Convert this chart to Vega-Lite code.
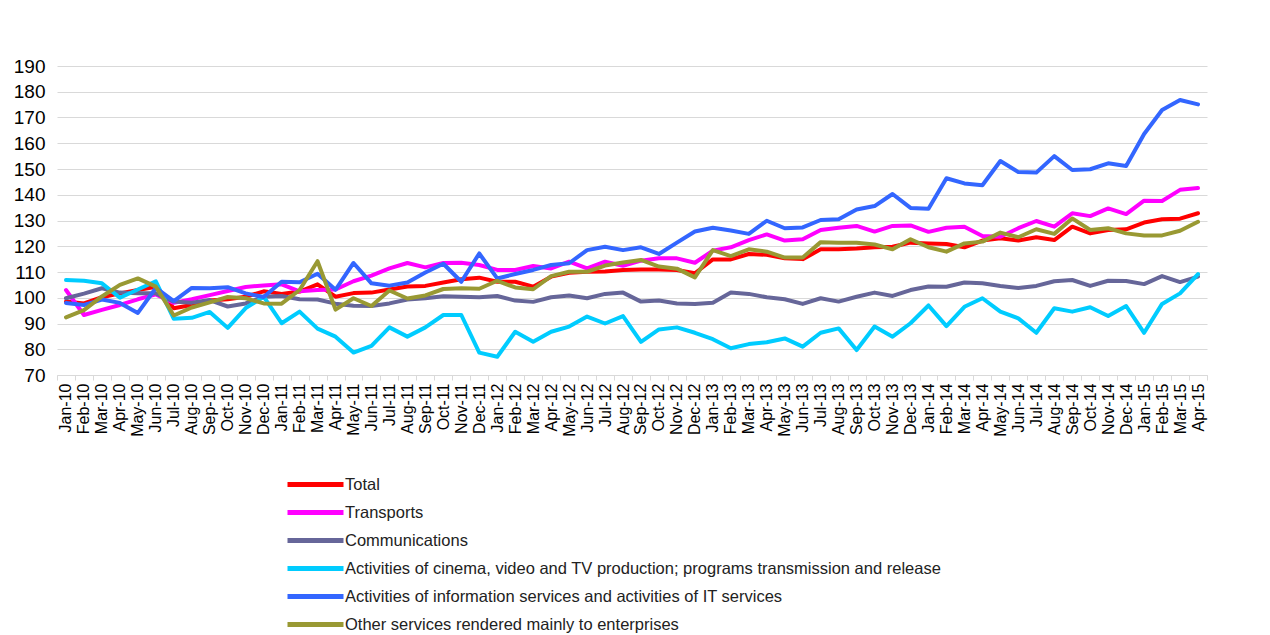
{
  "$schema": "https://vega.github.io/schema/vega-lite/v6.json",
  "autosize": {"type": "none"},
  "width": 1150,
  "height": 309,
  "padding": {"left": 57, "top": 66, "right": 63, "bottom": 260},
  "background": "white",
  "config": {"view": {"stroke": null}, "font": "Liberation Sans"},
  "data": {"values": [
    {"month":"Jan-10","series":"Total","value":98.5},{"month":"Feb-10","series":"Total","value":97.8},{"month":"Mar-10","series":"Total","value":100.2},{"month":"Apr-10","series":"Total","value":101.7},{"month":"May-10","series":"Total","value":103},{"month":"Jun-10","series":"Total","value":104.3},{"month":"Jul-10","series":"Total","value":95.9},{"month":"Aug-10","series":"Total","value":97.2},{"month":"Sep-10","series":"Total","value":98.9},{"month":"Oct-10","series":"Total","value":99.4},{"month":"Nov-10","series":"Total","value":100.4},{"month":"Dec-10","series":"Total","value":102.5},
    {"month":"Jan-11","series":"Total","value":101.5},{"month":"Feb-11","series":"Total","value":102.4},{"month":"Mar-11","series":"Total","value":105.2},{"month":"Apr-11","series":"Total","value":100.4},{"month":"May-11","series":"Total","value":101.8},{"month":"Jun-11","series":"Total","value":102},{"month":"Jul-11","series":"Total","value":103.2},{"month":"Aug-11","series":"Total","value":104.4},{"month":"Sep-11","series":"Total","value":104.6},{"month":"Oct-11","series":"Total","value":105.9},{"month":"Nov-11","series":"Total","value":107.2},{"month":"Dec-11","series":"Total","value":107.8},
    {"month":"Jan-12","series":"Total","value":106.2},{"month":"Feb-12","series":"Total","value":106.2},{"month":"Mar-12","series":"Total","value":104.3},{"month":"Apr-12","series":"Total","value":108.2},{"month":"May-12","series":"Total","value":109.7},{"month":"Jun-12","series":"Total","value":110.1},{"month":"Jul-12","series":"Total","value":110.2},{"month":"Aug-12","series":"Total","value":110.8},{"month":"Sep-12","series":"Total","value":111},{"month":"Oct-12","series":"Total","value":111},{"month":"Nov-12","series":"Total","value":110.8},{"month":"Dec-12","series":"Total","value":109.5},
    {"month":"Jan-13","series":"Total","value":114.9},{"month":"Feb-13","series":"Total","value":114.9},{"month":"Mar-13","series":"Total","value":117},{"month":"Apr-13","series":"Total","value":116.7},{"month":"May-13","series":"Total","value":115.3},{"month":"Jun-13","series":"Total","value":115},{"month":"Jul-13","series":"Total","value":118.8},{"month":"Aug-13","series":"Total","value":118.8},{"month":"Sep-13","series":"Total","value":119.1},{"month":"Oct-13","series":"Total","value":119.6},{"month":"Nov-13","series":"Total","value":119.8},{"month":"Dec-13","series":"Total","value":121.4},
    {"month":"Jan-14","series":"Total","value":121.1},{"month":"Feb-14","series":"Total","value":120.9},{"month":"Mar-14","series":"Total","value":119.6},{"month":"Apr-14","series":"Total","value":122.2},{"month":"May-14","series":"Total","value":123.1},{"month":"Jun-14","series":"Total","value":122.2},{"month":"Jul-14","series":"Total","value":123.5},{"month":"Aug-14","series":"Total","value":122.4},{"month":"Sep-14","series":"Total","value":127.6},{"month":"Oct-14","series":"Total","value":125},{"month":"Nov-14","series":"Total","value":126.3},{"month":"Dec-14","series":"Total","value":126.6},
    {"month":"Jan-15","series":"Total","value":129.2},{"month":"Feb-15","series":"Total","value":130.5},{"month":"Mar-15","series":"Total","value":130.7},{"month":"Apr-15","series":"Total","value":132.8},

    {"month":"Jan-10","series":"Transports","value":103},{"month":"Feb-10","series":"Transports","value":93.3},{"month":"Mar-10","series":"Transports","value":95.3},{"month":"Apr-10","series":"Transports","value":97.2},{"month":"May-10","series":"Transports","value":99.4},{"month":"Jun-10","series":"Transports","value":101.3},{"month":"Jul-10","series":"Transports","value":98},{"month":"Aug-10","series":"Transports","value":99.4},{"month":"Sep-10","series":"Transports","value":101},{"month":"Oct-10","series":"Transports","value":102.6},{"month":"Nov-10","series":"Transports","value":104.2},{"month":"Dec-10","series":"Transports","value":104.8},
    {"month":"Jan-11","series":"Transports","value":105.2},{"month":"Feb-11","series":"Transports","value":102.5},{"month":"Mar-11","series":"Transports","value":103},{"month":"Apr-11","series":"Transports","value":103.2},{"month":"May-11","series":"Transports","value":106.4},{"month":"Jun-11","series":"Transports","value":108.6},{"month":"Jul-11","series":"Transports","value":111.4},{"month":"Aug-11","series":"Transports","value":113.5},{"month":"Sep-11","series":"Transports","value":111.8},{"month":"Oct-11","series":"Transports","value":113.5},{"month":"Nov-11","series":"Transports","value":113.6},{"month":"Dec-11","series":"Transports","value":112.7},
    {"month":"Jan-12","series":"Transports","value":110.8},{"month":"Feb-12","series":"Transports","value":110.8},{"month":"Mar-12","series":"Transports","value":112.3},{"month":"Apr-12","series":"Transports","value":111.4},{"month":"May-12","series":"Transports","value":114},{"month":"Jun-12","series":"Transports","value":111.4},{"month":"Jul-12","series":"Transports","value":114},{"month":"Aug-12","series":"Transports","value":112.4},{"month":"Sep-12","series":"Transports","value":114.4},{"month":"Oct-12","series":"Transports","value":115.3},{"month":"Nov-12","series":"Transports","value":115.3},{"month":"Dec-12","series":"Transports","value":113.6},
    {"month":"Jan-13","series":"Transports","value":118.3},{"month":"Feb-13","series":"Transports","value":119.6},{"month":"Mar-13","series":"Transports","value":122.4},{"month":"Apr-13","series":"Transports","value":124.6},{"month":"May-13","series":"Transports","value":122.2},{"month":"Jun-13","series":"Transports","value":122.7},{"month":"Jul-13","series":"Transports","value":126.3},{"month":"Aug-13","series":"Transports","value":127.2},{"month":"Sep-13","series":"Transports","value":127.9},{"month":"Oct-13","series":"Transports","value":125.7},{"month":"Nov-13","series":"Transports","value":127.9},{"month":"Dec-13","series":"Transports","value":128.1},
    {"month":"Jan-14","series":"Transports","value":125.6},{"month":"Feb-14","series":"Transports","value":127.2},{"month":"Mar-14","series":"Transports","value":127.6},{"month":"Apr-14","series":"Transports","value":124},{"month":"May-14","series":"Transports","value":123.7},{"month":"Jun-14","series":"Transports","value":127},{"month":"Jul-14","series":"Transports","value":129.8},{"month":"Aug-14","series":"Transports","value":127.6},{"month":"Sep-14","series":"Transports","value":132.8},{"month":"Oct-14","series":"Transports","value":131.7},{"month":"Nov-14","series":"Transports","value":134.7},{"month":"Dec-14","series":"Transports","value":132.5},
    {"month":"Jan-15","series":"Transports","value":137.7},{"month":"Feb-15","series":"Transports","value":137.6},{"month":"Mar-15","series":"Transports","value":141.9},{"month":"Apr-15","series":"Transports","value":142.6},

    {"month":"Jan-10","series":"Communications","value":99.8},{"month":"Feb-10","series":"Communications","value":101.6},{"month":"Mar-10","series":"Communications","value":103.7},{"month":"Apr-10","series":"Communications","value":102},{"month":"May-10","series":"Communications","value":101.7},{"month":"Jun-10","series":"Communications","value":101.7},{"month":"Jul-10","series":"Communications","value":98.5},{"month":"Aug-10","series":"Communications","value":98.1},{"month":"Sep-10","series":"Communications","value":99.1},{"month":"Oct-10","series":"Communications","value":96.6},{"month":"Nov-10","series":"Communications","value":97.8},{"month":"Dec-10","series":"Communications","value":100.4},
    {"month":"Jan-11","series":"Communications","value":100.7},{"month":"Feb-11","series":"Communications","value":99.4},{"month":"Mar-11","series":"Communications","value":99.3},{"month":"Apr-11","series":"Communications","value":97.7},{"month":"May-11","series":"Communications","value":96.9},{"month":"Jun-11","series":"Communications","value":96.8},{"month":"Jul-11","series":"Communications","value":97.8},{"month":"Aug-11","series":"Communications","value":99.3},{"month":"Sep-11","series":"Communications","value":99.8},{"month":"Oct-11","series":"Communications","value":100.6},{"month":"Nov-11","series":"Communications","value":100.4},{"month":"Dec-11","series":"Communications","value":100.2},
    {"month":"Jan-12","series":"Communications","value":100.7},{"month":"Feb-12","series":"Communications","value":98.9},{"month":"Mar-12","series":"Communications","value":98.4},{"month":"Apr-12","series":"Communications","value":100.2},{"month":"May-12","series":"Communications","value":100.9},{"month":"Jun-12","series":"Communications","value":99.8},{"month":"Jul-12","series":"Communications","value":101.5},{"month":"Aug-12","series":"Communications","value":102},{"month":"Sep-12","series":"Communications","value":98.5},{"month":"Oct-12","series":"Communications","value":98.9},{"month":"Nov-12","series":"Communications","value":97.8},{"month":"Dec-12","series":"Communications","value":97.6},
    {"month":"Jan-13","series":"Communications","value":98.1},{"month":"Feb-13","series":"Communications","value":102},{"month":"Mar-13","series":"Communications","value":101.5},{"month":"Apr-13","series":"Communications","value":100.2},{"month":"May-13","series":"Communications","value":99.4},{"month":"Jun-13","series":"Communications","value":97.6},{"month":"Jul-13","series":"Communications","value":99.8},{"month":"Aug-13","series":"Communications","value":98.5},{"month":"Sep-13","series":"Communications","value":100.4},{"month":"Oct-13","series":"Communications","value":102},{"month":"Nov-13","series":"Communications","value":100.7},{"month":"Dec-13","series":"Communications","value":103},
    {"month":"Jan-14","series":"Communications","value":104.4},{"month":"Feb-14","series":"Communications","value":104.3},{"month":"Mar-14","series":"Communications","value":105.9},{"month":"Apr-14","series":"Communications","value":105.6},{"month":"May-14","series":"Communications","value":104.6},{"month":"Jun-14","series":"Communications","value":103.8},{"month":"Jul-14","series":"Communications","value":104.6},{"month":"Aug-14","series":"Communications","value":106.4},{"month":"Sep-14","series":"Communications","value":106.9},{"month":"Oct-14","series":"Communications","value":104.6},{"month":"Nov-14","series":"Communications","value":106.6},{"month":"Dec-14","series":"Communications","value":106.5},
    {"month":"Jan-15","series":"Communications","value":105.3},{"month":"Feb-15","series":"Communications","value":108.4},{"month":"Mar-15","series":"Communications","value":106.1},{"month":"Apr-15","series":"Communications","value":108.2},

    {"month":"Jan-10","series":"Cinema","value":106.9},{"month":"Feb-10","series":"Cinema","value":106.6},{"month":"Mar-10","series":"Cinema","value":105.6},{"month":"Apr-10","series":"Cinema","value":100},{"month":"May-10","series":"Cinema","value":103.2},{"month":"Jun-10","series":"Cinema","value":106.4},{"month":"Jul-10","series":"Cinema","value":91.8},{"month":"Aug-10","series":"Cinema","value":92.2},{"month":"Sep-10","series":"Cinema","value":94.5},{"month":"Oct-10","series":"Cinema","value":88.3},{"month":"Nov-10","series":"Cinema","value":96},{"month":"Dec-10","series":"Cinema","value":100.4},
    {"month":"Jan-11","series":"Cinema","value":90.1},{"month":"Feb-11","series":"Cinema","value":94.6},{"month":"Mar-11","series":"Cinema","value":88},{"month":"Apr-11","series":"Cinema","value":84.9},{"month":"May-11","series":"Cinema","value":78.7},{"month":"Jun-11","series":"Cinema","value":81.3},{"month":"Jul-11","series":"Cinema","value":88.5},{"month":"Aug-11","series":"Cinema","value":84.9},{"month":"Sep-11","series":"Cinema","value":88.5},{"month":"Oct-11","series":"Cinema","value":93.3},{"month":"Nov-11","series":"Cinema","value":93.3},{"month":"Dec-11","series":"Cinema","value":78.7},
    {"month":"Jan-12","series":"Cinema","value":77.1},{"month":"Feb-12","series":"Cinema","value":86.8},{"month":"Mar-12","series":"Cinema","value":82.9},{"month":"Apr-12","series":"Cinema","value":86.8},{"month":"May-12","series":"Cinema","value":88.8},{"month":"Jun-12","series":"Cinema","value":92.7},{"month":"Jul-12","series":"Cinema","value":90},{"month":"Aug-12","series":"Cinema","value":92.9},{"month":"Sep-12","series":"Cinema","value":82.9},{"month":"Oct-12","series":"Cinema","value":87.7},{"month":"Nov-12","series":"Cinema","value":88.5},{"month":"Dec-12","series":"Cinema","value":86.4},
    {"month":"Jan-13","series":"Cinema","value":83.9},{"month":"Feb-13","series":"Cinema","value":80.4},{"month":"Mar-13","series":"Cinema","value":82},{"month":"Apr-13","series":"Cinema","value":82.7},{"month":"May-13","series":"Cinema","value":84.2},{"month":"Jun-13","series":"Cinema","value":81},{"month":"Jul-13","series":"Cinema","value":86.4},{"month":"Aug-13","series":"Cinema","value":88.1},{"month":"Sep-13","series":"Cinema","value":79.7},{"month":"Oct-13","series":"Cinema","value":88.8},{"month":"Nov-13","series":"Cinema","value":84.9},{"month":"Dec-13","series":"Cinema","value":90.1},
    {"month":"Jan-14","series":"Cinema","value":97},{"month":"Feb-14","series":"Cinema","value":89},{"month":"Mar-14","series":"Cinema","value":96.5},{"month":"Apr-14","series":"Cinema","value":99.8},{"month":"May-14","series":"Cinema","value":94.6},{"month":"Jun-14","series":"Cinema","value":92},{"month":"Jul-14","series":"Cinema","value":86.4},{"month":"Aug-14","series":"Cinema","value":95.9},{"month":"Sep-14","series":"Cinema","value":94.6},{"month":"Oct-14","series":"Cinema","value":96.3},{"month":"Nov-14","series":"Cinema","value":92.9},{"month":"Dec-14","series":"Cinema","value":96.8},
    {"month":"Jan-15","series":"Cinema","value":86.4},{"month":"Feb-15","series":"Cinema","value":97.6},{"month":"Mar-15","series":"Cinema","value":101.7},{"month":"Apr-15","series":"Cinema","value":109.2},

    {"month":"Jan-10","series":"IT","value":98},{"month":"Feb-10","series":"IT","value":97.2},{"month":"Mar-10","series":"IT","value":99.3},{"month":"Apr-10","series":"IT","value":98},{"month":"May-10","series":"IT","value":94.1},{"month":"Jun-10","series":"IT","value":103.8},{"month":"Jul-10","series":"IT","value":98.7},{"month":"Aug-10","series":"IT","value":103.8},{"month":"Sep-10","series":"IT","value":103.7},{"month":"Oct-10","series":"IT","value":104.1},{"month":"Nov-10","series":"IT","value":101.7},{"month":"Dec-10","series":"IT","value":100.3},
    {"month":"Jan-11","series":"IT","value":106.2},{"month":"Feb-11","series":"IT","value":106},{"month":"Mar-11","series":"IT","value":109.3},{"month":"Apr-11","series":"IT","value":103.1},{"month":"May-11","series":"IT","value":113.5},{"month":"Jun-11","series":"IT","value":105.6},{"month":"Jul-11","series":"IT","value":104.7},{"month":"Aug-11","series":"IT","value":105.9},{"month":"Sep-11","series":"IT","value":109.8},{"month":"Oct-11","series":"IT","value":113.2},{"month":"Nov-11","series":"IT","value":106.2},{"month":"Dec-11","series":"IT","value":117.2},
    {"month":"Jan-12","series":"IT","value":107.5},{"month":"Feb-12","series":"IT","value":109.2},{"month":"Mar-12","series":"IT","value":110.8},{"month":"Apr-12","series":"IT","value":112.7},{"month":"May-12","series":"IT","value":113.4},{"month":"Jun-12","series":"IT","value":118.5},{"month":"Jul-12","series":"IT","value":119.8},{"month":"Aug-12","series":"IT","value":118.5},{"month":"Sep-12","series":"IT","value":119.6},{"month":"Oct-12","series":"IT","value":117},{"month":"Nov-12","series":"IT","value":121.4},{"month":"Dec-12","series":"IT","value":125.7},
    {"month":"Jan-13","series":"IT","value":127.2},{"month":"Feb-13","series":"IT","value":126.1},{"month":"Mar-13","series":"IT","value":124.8},{"month":"Apr-13","series":"IT","value":129.9},{"month":"May-13","series":"IT","value":127},{"month":"Jun-13","series":"IT","value":127.3},{"month":"Jul-13","series":"IT","value":130.2},{"month":"Aug-13","series":"IT","value":130.5},{"month":"Sep-13","series":"IT","value":134.3},{"month":"Oct-13","series":"IT","value":135.6},{"month":"Nov-13","series":"IT","value":140.3},{"month":"Dec-13","series":"IT","value":134.9},
    {"month":"Jan-14","series":"IT","value":134.6},{"month":"Feb-14","series":"IT","value":146.4},{"month":"Mar-14","series":"IT","value":144.4},{"month":"Apr-14","series":"IT","value":143.7},{"month":"May-14","series":"IT","value":153.1},{"month":"Jun-14","series":"IT","value":148.8},{"month":"Jul-14","series":"IT","value":148.6},{"month":"Aug-14","series":"IT","value":155},{"month":"Sep-14","series":"IT","value":149.6},{"month":"Oct-14","series":"IT","value":149.9},{"month":"Nov-14","series":"IT","value":152.2},{"month":"Dec-14","series":"IT","value":151.2},
    {"month":"Jan-15","series":"IT","value":163.6},{"month":"Feb-15","series":"IT","value":172.9},{"month":"Mar-15","series":"IT","value":176.8},{"month":"Apr-15","series":"IT","value":175.1},

    {"month":"Jan-10","series":"Other","value":92.4},{"month":"Feb-10","series":"Other","value":95.2},{"month":"Mar-10","series":"Other","value":100.5},{"month":"Apr-10","series":"Other","value":105},{"month":"May-10","series":"Other","value":107.5},{"month":"Jun-10","series":"Other","value":104.3},{"month":"Jul-10","series":"Other","value":93.1},{"month":"Aug-10","series":"Other","value":96.2},{"month":"Sep-10","series":"Other","value":98.2},{"month":"Oct-10","series":"Other","value":100.3},{"month":"Nov-10","series":"Other","value":99.8},{"month":"Dec-10","series":"Other","value":97.8},
    {"month":"Jan-11","series":"Other","value":97.7},{"month":"Feb-11","series":"Other","value":103},{"month":"Mar-11","series":"Other","value":114.2},{"month":"Apr-11","series":"Other","value":95.4},{"month":"May-11","series":"Other","value":99.8},{"month":"Jun-11","series":"Other","value":96.8},{"month":"Jul-11","series":"Other","value":102.8},{"month":"Aug-11","series":"Other","value":99.7},{"month":"Sep-11","series":"Other","value":100.9},{"month":"Oct-11","series":"Other","value":103.4},{"month":"Nov-11","series":"Other","value":103.7},{"month":"Dec-11","series":"Other","value":103.5},
    {"month":"Jan-12","series":"Other","value":106.6},{"month":"Feb-12","series":"Other","value":104},{"month":"Mar-12","series":"Other","value":103.3},{"month":"Apr-12","series":"Other","value":108.4},{"month":"May-12","series":"Other","value":110.1},{"month":"Jun-12","series":"Other","value":110.1},{"month":"Jul-12","series":"Other","value":112.5},{"month":"Aug-12","series":"Other","value":113.7},{"month":"Sep-12","series":"Other","value":114.7},{"month":"Oct-12","series":"Other","value":112.1},{"month":"Nov-12","series":"Other","value":111.3},{"month":"Dec-12","series":"Other","value":107.9},
    {"month":"Jan-13","series":"Other","value":118.5},{"month":"Feb-13","series":"Other","value":116.2},{"month":"Mar-13","series":"Other","value":118.8},{"month":"Apr-13","series":"Other","value":117.9},{"month":"May-13","series":"Other","value":115.6},{"month":"Jun-13","series":"Other","value":115.6},{"month":"Jul-13","series":"Other","value":121.6},{"month":"Aug-13","series":"Other","value":121.4},{"month":"Sep-13","series":"Other","value":121.4},{"month":"Oct-13","series":"Other","value":120.7},{"month":"Nov-13","series":"Other","value":118.8},{"month":"Dec-13","series":"Other","value":122.7},
    {"month":"Jan-14","series":"Other","value":119.6},{"month":"Feb-14","series":"Other","value":117.9},{"month":"Mar-14","series":"Other","value":121.1},{"month":"Apr-14","series":"Other","value":121.8},{"month":"May-14","series":"Other","value":125.3},{"month":"Jun-14","series":"Other","value":123.5},{"month":"Jul-14","series":"Other","value":126.6},{"month":"Aug-14","series":"Other","value":124.8},{"month":"Sep-14","series":"Other","value":130.8},{"month":"Oct-14","series":"Other","value":126.3},{"month":"Nov-14","series":"Other","value":127},{"month":"Dec-14","series":"Other","value":125},
    {"month":"Jan-15","series":"Other","value":124.2},{"month":"Feb-15","series":"Other","value":124.2},{"month":"Mar-15","series":"Other","value":126},{"month":"Apr-15","series":"Other","value":129.5}
  ]},
  "mark": {"type": "line", "strokeWidth": 4, "strokeCap": "round", "strokeJoin": "round"},
  "encoding": {
    "x": {
      "field": "month", "type": "ordinal", "sort": null, "bandPosition": 0.5,
      "scale": {"type": "band", "paddingInner": 0, "paddingOuter": 0},
      "axis": {
        "title": null, "labelAngle": -90, "labelFontSize": 16, "labelColor": "#000000",
        "labelPadding": 3, "tickBand": "extent", "tickSize": 5, "tickColor": "#d9d9d9",
        "domainColor": "#d9d9d9", "domainWidth": 1, "grid": false, "labelFont": "Liberation Sans"
      }
    },
    "y": {
      "field": "value", "type": "quantitative",
      "scale": {"domain": [70, 190], "nice": false, "zero": false},
      "axis": {
        "title": null, "values": [70, 80, 90, 100, 110, 120, 130, 140, 150, 160, 170, 180, 190],
        "grid": true, "gridColor": "#d9d9d9", "gridWidth": 1, "domain": false, "ticks": false,
        "labelFontSize": 19, "labelColor": "#000000", "labelPadding": 12, "labelFont": "Liberation Sans"
      }
    },
    "color": {
      "field": "series", "type": "nominal",
      "scale": {
        "domain": ["Total", "Transports", "Communications", "Cinema", "IT", "Other"],
        "range": ["#ff0000", "#ff00ff", "#666699", "#00ccff", "#3366ff", "#999933"]
      },
      "legend": {
        "title": null, "orient": "none", "legendX": 228, "legendY": 408, "direction": "vertical",
        "symbolType": "M-1,0H6", "symbolSize": 256, "symbolStrokeWidth": 5,
        "labelFontSize": 16.5, "labelColor": "#222222", "labelFont": "Liberation Sans", "labelOffset": 39,
        "rowPadding": 7, "labelLimit": 900,
        "labelExpr": "datum.label == 'Cinema' ? 'Activities of cinema, video and TV production; programs transmission and release' : datum.label == 'IT' ? 'Activities of information services and activities of IT services' : datum.label == 'Other' ? 'Other services rendered mainly to enterprises' : datum.label"
      }
    }
  }
}
